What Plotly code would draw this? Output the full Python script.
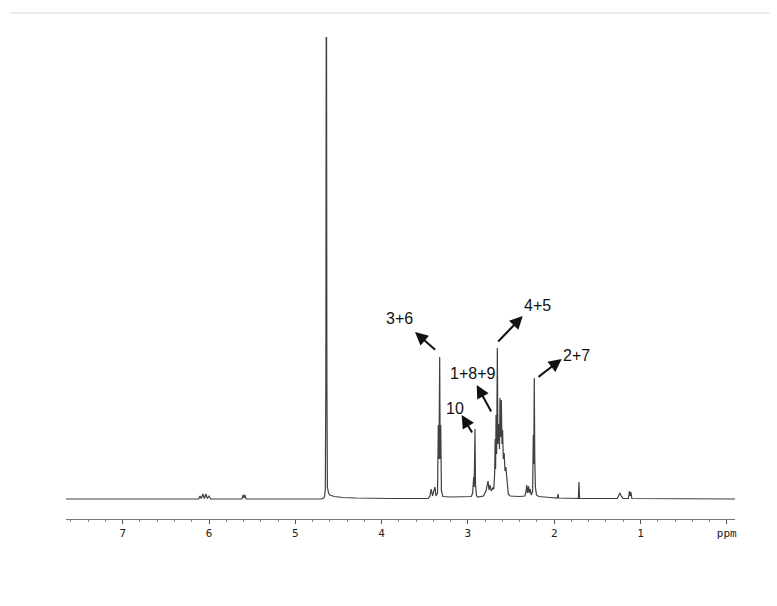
import plotly.graph_objects as go

# Spectrum trace vertices (chemical shift in ppm, relative intensity)
ppm = [7.657, 6.12, 6.105, 6.09, 6.07, 6.055, 6.035, 6.02, 6.00, 5.98,
       5.62, 5.605, 5.595, 5.585, 5.57,
       4.70, 4.67, 4.66, 4.652, 4.646, 4.642, 4.638, 4.634, 4.628, 4.615, 4.60, 4.55, 4.45, 4.30, 4.10, 3.90,
       3.46, 3.44, 3.425, 3.41, 3.395, 3.381, 3.37,
       3.352, 3.343, 3.335, 3.327, 3.321, 3.315, 3.307, 3.29,
       3.20, 3.05, 2.96, 2.945, 2.933, 2.927, 2.918, 2.912, 2.90, 2.88,
       2.82, 2.79, 2.767, 2.755, 2.744, 2.73, 2.713, 2.70,
       2.69, 2.684, 2.679, 2.674, 2.667, 2.659, 2.652, 2.64, 2.634, 2.628, 2.621, 2.613, 2.605, 2.598,
       2.59, 2.58, 2.57, 2.56, 2.55, 2.54, 2.532, 2.51,
       2.40, 2.34, 2.325, 2.319, 2.31, 2.298, 2.29, 2.28, 2.265,
       2.25, 2.242, 2.237, 2.231, 2.225, 2.218, 2.205, 2.18,
       2.05, 1.965, 1.956, 1.948, 1.72, 1.713, 1.706,
       1.27, 1.25, 1.238, 1.225, 1.20, 1.14, 1.128, 1.12, 1.112, 1.10, -0.095]
intensity = [0, 0, 3, 0.5, 5, 0.5, 5, 0.5, 3, 0,
             0, 4, 1, 4, 0,
             0, 1, 3, 10, 120, 462, 462, 120, 12, 6, 4, 2.5, 1.5, 1, 0.5, 0.5,
             0.5, 3, 10, 3, 8, 12, 3,
             6, 74, 40, 142, 40, 74, 8, 2.5,
             2, 2, 2.5, 6, 22, 12, 70, 15, 3, 2,
             3, 8, 18, 9, 14, 8, 11, 10,
             25, 60, 30, 84, 45, 151, 55, 75, 50, 101, 62, 99, 55, 69,
             40, 46, 28, 32, 18, 10, 5, 3,
             2.5, 3, 8, 14, 6, 13, 6, 10, 4,
             8, 64, 35, 121, 40, 12, 4, 2.5,
             1.5, 1, 5, 1, 0.5, 17, 0.5,
             0.5, 4, 6, 3, 0.5, 0.5, 8, 3, 7, 0.5, 0]

# Axis ticks
tick_values = [0, 1, 2, 3, 4, 5, 6, 7]
tick_labels = ["ppm", "1", "2", "3", "4", "5", "6", "7"]

# Peak assignment labels: text, text position, arrow tail (near peak), arrow head
label_text = ["3+6", "4+5", "2+7", "1+8+9", "10"]
label_ppm = [3.787, 2.188, 1.739, 2.941, 3.150]
label_int = [181, 194, 144, 126, 91]
arrow_tail_ppm = [3.362, 2.666, 2.199, 2.721, 2.941]
arrow_tail_int = [148, 156, 121, 86, 65]
arrow_head_ppm = [3.613, 2.365, 1.913, 2.898, 3.072]
arrow_head_int = [167, 183, 140, 114, 84]

fig = go.Figure()
fig.add_trace(go.Scatter(x=ppm, y=intensity, mode="lines",
                         line=dict(color="#404040", width=1.2), hoverinfo="skip",
                         showlegend=False))

annotations = []
for t, lx, ly, tx, ty, hx, hy in zip(label_text, label_ppm, label_int,
                                     arrow_tail_ppm, arrow_tail_int,
                                     arrow_head_ppm, arrow_head_int):
    annotations.append(dict(x=lx, y=ly, xref="x", yref="y", text=t, showarrow=False,
                            font=dict(family="Liberation Sans, Arial", size=16, color="#111")))
    annotations.append(dict(x=hx, y=hy, ax=tx, ay=ty, xref="x", yref="y",
                            axref="x", ayref="y", text="", showarrow=True,
                            arrowhead=2, arrowsize=1.3, arrowwidth=2, arrowcolor="#111"))

minor_vals = [round(v * 0.2, 1) for v in range(0, 39) if (v % 5) != 0]

fig.update_layout(
    width=777, height=606,
    margin=dict(l=66, r=42, t=37, b=87),
    paper_bgcolor="white", plot_bgcolor="white",
    annotations=annotations,
    xaxis=dict(range=[7.657, -0.095], showgrid=False, zeroline=False,
               showline=True, linecolor="#777", linewidth=1,
               tickmode="array", tickvals=tick_values, ticktext=tick_labels,
               ticks="outside", ticklen=4, tickcolor="#555", tickwidth=1,
               tickfont=dict(family="DejaVu Sans Mono", size=11, color="#222"),
               minor=dict(tickmode="array", tickvals=minor_vals, ticks="outside",
                          ticklen=2, tickcolor="#888")),
    yaxis=dict(range=[-20, 462], visible=False, showgrid=False, zeroline=False),
    shapes=[dict(type="line", xref="paper", yref="paper", x0=-0.084, x1=1.052,
                 y0=1.0498, y1=1.0498, line=dict(color="#ececec", width=2))],
)

fig.write_html("out.html")
